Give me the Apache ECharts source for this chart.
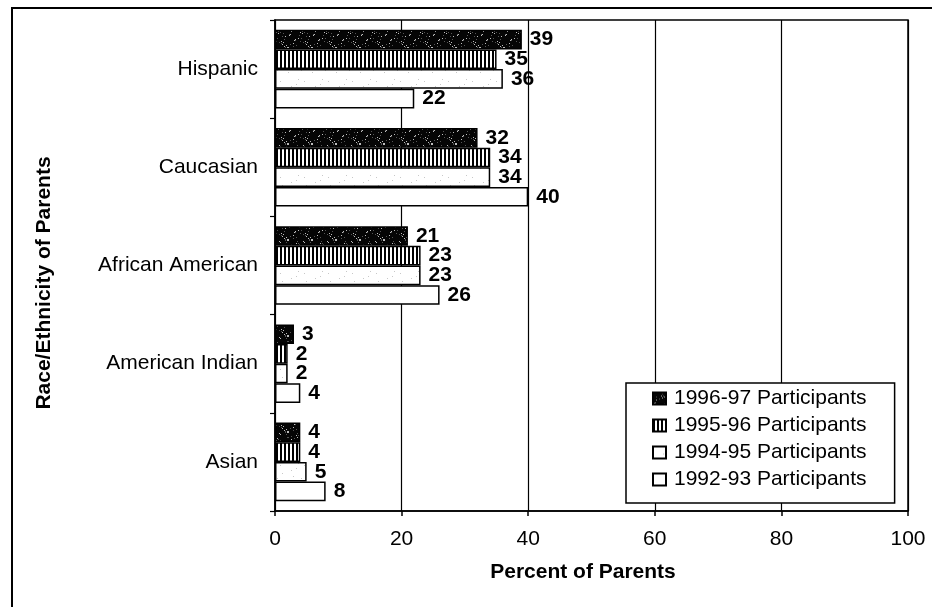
<!DOCTYPE html>
<html><head><meta charset="utf-8">
<script src="https://cdn.jsdelivr.net/npm/echarts@6/dist/echarts.min.js"></script>
<style>html,body{margin:0;padding:0;background:#fff}#c{width:932px;height:607px}</style>
</head><body><div id="c"></div>
<script>
const categories = ['Hispanic', 'Caucasian', 'African American', 'American Indian', 'Asian'];
const seriesNames = ['1996-97 Participants', '1995-96 Participants', '1994-95 Participants', '1992-93 Participants'];
const v199697 = [39, 32, 21, 3, 4];
const v199596 = [35, 34, 23, 2, 4];
const v199495 = [36, 34, 23, 2, 5];
const v199293 = [22, 40, 26, 4, 8];
const xTicks = [0, 20, 40, 60, 80, 100];
const xTitle = 'Percent of Parents';
const yTitle = 'Race/Ethnicity of Parents';

const FONT = '"Liberation Sans", Arial, Helvetica, sans-serif';

function makeCanvas(w, h, draw) {
  const c = document.createElement('canvas');
  c.width = w; c.height = h;
  draw(c.getContext('2d'));
  return c;
}
// dark speckled texture (deterministic)
const darkPat = makeCanvas(24, 24, g => {
  g.fillStyle = '#050505'; g.fillRect(0, 0, 24, 24);
  for (let y = 0; y < 24; y++) for (let x = 0; x < 24; x++) {
    const h = (x * 7 + y * 11 + x * y * 3) % 23;
    if (h === 0) { g.fillStyle = '#bdbdbd'; g.fillRect(x, y, 1, 1); }
    else if (h === 9) { g.fillStyle = '#555'; g.fillRect(x, y, 1, 1); }
  }
});
// vertical stripes
const stripePat = makeCanvas(4, 4, g => {
  g.fillStyle = '#fff'; g.fillRect(0, 0, 4, 4);
  g.fillStyle = '#000'; g.fillRect(0, 0, 2, 4);
});
// light speckled
const lightPat = makeCanvas(24, 24, g => {
  g.fillStyle = '#fff'; g.fillRect(0, 0, 24, 24);
  for (let y = 0; y < 24; y++) for (let x = 0; x < 24; x++) {
    const h = (x * 5 + y * 9 + x * y) % 61;
    if (h === 0) { g.fillStyle = '#c8c8c8'; g.fillRect(x, y, 1, 1); }
  }
});

const fills = [
  { image: darkPat, repeat: 'repeat' },
  { image: stripePat, repeat: 'repeat' },
  { image: lightPat, repeat: 'repeat' },
  '#ffffff'
];
const values = [v199697, v199596, v199495, v199293];

const chart = echarts.init(document.getElementById('c'), null, { renderer: 'canvas' });

const series = seriesNames.map((name, i) => ({
  name: name,
  type: 'bar',
  data: values[i],
  barGap: '0%',
  barCategoryGap: '20%',
  itemStyle: { color: fills[i], borderColor: '#000', borderWidth: 1.5 },
  label: {
    show: true, position: 'right', distance: 8,
    color: '#000', fontFamily: FONT, fontSize: 21, fontWeight: 'bold'
  },
  emphasis: { disabled: true },
  animation: false
}));

chart.setOption({
  animation: false,
  backgroundColor: '#fff',
  textStyle: { fontFamily: FONT },
  grid: {
    left: 275, right: 24, top: 20, bottom: 96,
    show: true, borderColor: '#000', borderWidth: 1.5, backgroundColor: 'transparent'
  },
  legend: {
    orient: 'vertical',
    left: 626, top: 383,
    data: seriesNames,
    icon: 'rect',
    itemWidth: 13, itemHeight: 12,
    itemGap: 6,
    padding: [5, 28, 13, 26],
    backgroundColor: '#fff',
    borderColor: '#000', borderWidth: 1.5,
    textStyle: { fontFamily: FONT, fontSize: 21, color: '#000', lineHeight: 21, padding: [0, 0, 0, 3] },
    selectedMode: false
  },
  xAxis: {
    type: 'value', min: 0, max: 100, interval: 20,
    axisLine: { show: true, lineStyle: { color: '#000', width: 1.5 } },
    axisTick: { show: true, length: 5, lineStyle: { color: '#000', width: 1.5 } },
    splitLine: { show: true, lineStyle: { color: '#000', width: 1.2 } },
    axisLabel: {
      fontFamily: FONT, fontSize: 21, color: '#000', margin: 18,
      formatter: v => (xTicks.indexOf(v) >= 0 ? String(v) : '')
    }
  },
  yAxis: {
    type: 'category', data: categories, inverse: true,
    axisLine: { show: true, lineStyle: { color: '#000', width: 1.5 } },
    axisTick: { show: true, length: 5, lineStyle: { color: '#000', width: 1.2 } },
    axisLabel: { fontFamily: FONT, fontSize: 21, color: '#000', margin: 17 }
  },
  graphic: [
    { type: 'line', shape: { x1: 11, y1: 8, x2: 932, y2: 8 }, style: { stroke: '#000', lineWidth: 2 } },
    { type: 'line', shape: { x1: 12, y1: 8, x2: 12, y2: 607 }, style: { stroke: '#000', lineWidth: 2 } },
    {
      type: 'text', x: 583, y: 572,
      style: { text: xTitle, font: 'bold 21px ' + FONT, fill: '#000', align: 'center', verticalAlign: 'middle', textAlign: 'center', textVerticalAlign: 'middle' }
    },
    {
      type: 'text', x: 44, y: 283, rotation: Math.PI / 2,
      style: { text: yTitle, font: 'bold 21px ' + FONT, fill: '#000', align: 'center', verticalAlign: 'middle', textAlign: 'center', textVerticalAlign: 'middle' }
    }
  ],
  series: series
});
</script>
</body></html>
